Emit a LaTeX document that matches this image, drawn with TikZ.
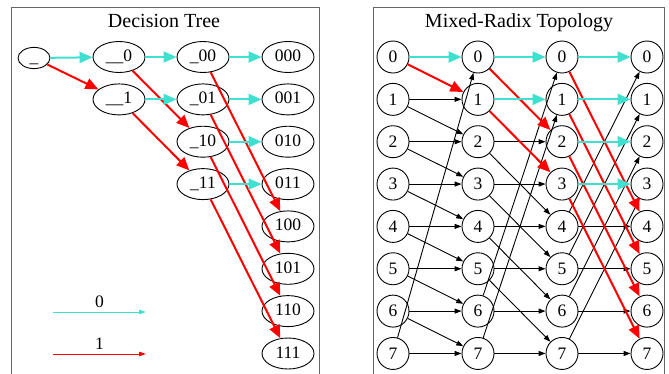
\documentclass[tikz,border=0pt]{standalone}
\usepackage{fontspec}
\setmainfont{Liberation Serif}
\usepackage{xcolor}
\usepackage{tikz}
\usetikzlibrary{arrows.meta, shapes.geometric}
\definecolor{zerocol}{HTML}{40E0D0}
\tikzset{
    cluster/.style={draw=black!60, line width=1pt},
    title/.style={font=\fontsize{20}{24}\selectfont, anchor=base},
    state/.style={draw, ellipse, line width=0.9pt, minimum width=52pt, minimum height=31pt, inner sep=0pt, text height=12pt, text depth=3pt, font=\fontsize{17.5}{20}\selectfont},
    slot/.style={draw, circle, line width=0.9pt, minimum size=32pt, inner sep=0pt, font=\fontsize{17.5}{20}\selectfont},
    zero/.style={zerocol, line width=2pt, -{Triangle[length=13pt, width=11pt]}},
    one/.style={red, line width=2pt, -{Triangle[length=13pt, width=11pt]}},
    link/.style={black, line width=0.9pt, -{Triangle[length=7pt, width=5pt]}},
    key/.style={line width=1pt, -{Triangle[length=7pt, width=4.5pt]}},
    keylabel/.style={above, inner sep=4pt, text=black, font=\fontsize{17.5}{20}\selectfont}
}

\begin{document}
\begin{tikzpicture}[x=1pt, y=-1pt]
    \useasboundingbox (0,0) rectangle (669,373);
    % Clusters
    \draw[cluster] (11,7.5) rectangle (319,400);
    \draw[cluster] (373,7.5) rectangle (664,400);
    \node[title] (ttree) at (164,27) {Decision Tree};
    \node[title] (ttopo) at (519,27) {Mixed-Radix Topology};
    % Decision tree nodes
    \node[state, minimum width=32pt, minimum height=21pt] (root) at (34,58) {\_};
    \node[state] (n0) at (119,57) {\_\_0};
    \node[state] (n1) at (119,99.4) {\_\_1};
    \node[state] (n00) at (203,57) {\_00};
    \node[state] (n01) at (203,99.4) {\_01};
    \node[state] (n10) at (203,141.7) {\_10};
    \node[state] (n11) at (203,184.1) {\_11};
    \node[state] (n000) at (288,57) {000};
    \node[state] (n001) at (288,99.4) {001};
    \node[state] (n010) at (288,141.7) {010};
    \node[state] (n011) at (288,184.1) {011};
    \node[state] (n100) at (288,226.4) {100};
    \node[state] (n101) at (288,268.8) {101};
    \node[state] (n110) at (288,311.1) {110};
    \node[state] (n111) at (288,353.5) {111};
    % First bit
    \draw[zero] (root) -- (n0);
    \draw[one] (root) -- (n1);
    % Second bit
    \draw[zero] (n0) -- (n00);
    \draw[one] (n0) -- (n10);
    \draw[zero] (n1) -- (n01);
    \draw[one] (n1) -- (n11);
    % Third bit
    \draw[zero] (n00) -- (n000);
    \draw[one] (n00) -- (n100);
    \draw[zero] (n01) -- (n001);
    \draw[one] (n01) -- (n101);
    \draw[zero] (n10) -- (n010);
    \draw[one] (n10) -- (n110);
    \draw[zero] (n11) -- (n011);
    \draw[one] (n11) -- (n111);
    % Legend
    \coordinate (k0a) at (53,312);
    \coordinate (k0b) at (146,312);
    \coordinate (k1a) at (53,354);
    \coordinate (k1b) at (146,354);
    \draw[key, zerocol] (k0a) -- node[keylabel] (k0) {0} (k0b);
    \draw[key, red] (k1a) -- node[keylabel] (k1) {1} (k1b);
    % Topology nodes
    \foreach \col/\x in {a/393, b/478, c/562, d/647}
        \foreach \i in {0,...,7}
            \node[slot] (\col\i) at (\x,57+42.35*\i) {\i};
    % Plain links
    \foreach \from/\to/\k in {a/b/1, b/c/2, c/d/4}
        \foreach \i in {0,...,7} {
            \pgfmathtruncatemacro{\j}{mod(\i+\k,8)}
            \ifnum\i<\k\else
                \draw[link] (\from\i) -- (\to\i);
                \draw[link] (\from\i) -- (\to\j);
            \fi
        }
    % Tree paths
    \foreach \from/\to/\k in {a/b/1, b/c/2, c/d/4}
        \foreach \i in {0,...,7} {
            \pgfmathtruncatemacro{\j}{mod(\i+\k,8)}
            \ifnum\i<\k
                \draw[zero] (\from\i) -- (\to\i);
                \draw[one] (\from\i) -- (\to\j);
            \fi
        }
\end{tikzpicture}
\end{document}
